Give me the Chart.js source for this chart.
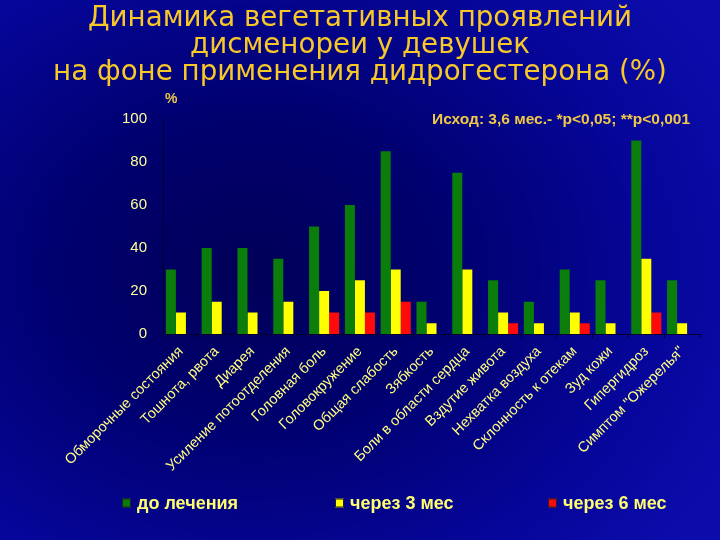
<!DOCTYPE html>
<html>
<head>
<meta charset="utf-8">
<script src="https://cdn.jsdelivr.net/npm/chart.js@4/dist/chart.umd.min.js"></script>
<style>
html,body{margin:0;padding:0;}
body{width:720px;height:540px;overflow:hidden;
background: radial-gradient(ellipse 75% 80% at 35% 50%, #000058 0%, #00006e 35%, #06069a 75%, #0c0cab 100%);}
#wrap{position:relative;width:720px;height:540px;}
canvas{display:block;}
</style>
</head>
<body>
<div id="wrap"><canvas id="c" width="720" height="540"></canvas></div>
<script>
const titleLines = ['Динамика вегетативных проявлений', 'дисменореи у девушек', 'на фоне применения дидрогестерона (%)'];
const categories = [
  'Обморочные состояния', 'Тошнота, рвота', 'Диарея', 'Усиление потоотделения',
  'Головная боль', 'Головокружение', 'Общая слабость', 'Зябкость',
  'Боли в области сердца', 'Вздутие живота', 'Нехватка воздуха', 'Склонность к отекам',
  'Зуд кожи', 'Гипергидроз', 'Симптом "Ожерелья"'
];
const beforeTreatment = [30, 40, 40, 35, 50, 60, 85, 15, 75, 25, 15, 30, 25, 90, 25];
const after3Months    = [10, 15, 10, 15, 20, 25, 30,  5, 30, 10,  5, 10,  5, 35,  5];
const after6Months    = [ 0,  0,  0,  0, 10, 10, 15,  0,  0,  5,  0,  5,  0, 10,  0];
const seriesNames = ['до лечения', 'через 3 мес', 'через 6 мес'];
const seriesColors = ['#0a7d0a', '#ffff00', '#ff0a0a'];
const yTickValues = [0, 20, 40, 60, 80, 100];
const unitLabel = '%';
const noteText = 'Исход: 3,6 мес.- *p<0,05; **p<0,001';

const overlay = {
  id: 'overlay',
  afterDraw(chart) {
    const ctx = chart.ctx;
    const area = chart.chartArea;
    ctx.save();
    // unit label
    ctx.fillStyle = '#f0c848';
    ctx.font = 'bold 14px "Liberation Sans", Arial, sans-serif';
    ctx.textAlign = 'left';
    ctx.textBaseline = 'middle';
    ctx.fillText(unitLabel, area.left + 2, area.top - 20);
    // note
    ctx.font = 'bold 15.5px "Liberation Sans", Arial, sans-serif';
    ctx.fillText(noteText, 432, area.top + 1);
    // legend
    const xs = [122, 335, 548];
    const y = 503;
    ctx.font = 'bold 18px "Liberation Sans", Arial, sans-serif';
    chart.data.datasets.forEach((ds, i) => {
      ctx.fillStyle = ds.backgroundColor;
      ctx.fillRect(xs[i], y - 4.5, 9, 9);
      ctx.strokeStyle = '#202020';
      ctx.lineWidth = 1;
      ctx.strokeRect(xs[i] + 0.5, y - 4, 8, 8);
      ctx.fillStyle = '#ffff70';
      ctx.fillText(ds.label, xs[i] + 15, y + 1);
    });
    ctx.restore();
  }
};

new Chart(document.getElementById('c'), {
  type: 'bar',
  data: {
    labels: categories,
    datasets: [
      { label: seriesNames[0], data: beforeTreatment, backgroundColor: seriesColors[0] },
      { label: seriesNames[1], data: after3Months, backgroundColor: seriesColors[1] },
      { label: seriesNames[2], data: after6Months, backgroundColor: seriesColors[2] }
    ]
  },
  options: {
    responsive: false,
    animation: false,
    devicePixelRatio: 1,
    layout: { padding: { left: 20, right: 20, top: 0, bottom: 0 } },
    datasets: { bar: { categoryPercentage: 0.84, barPercentage: 1.0 } },
    plugins: {
      legend: { display: false },
      tooltip: { enabled: false },
      title: {
        display: true,
        text: titleLines,
        color: '#f8c828',
        font: { family: '"DejaVu Sans", Verdana, sans-serif', size: 27.7, weight: 'normal', lineHeight: 0.975 },
        padding: { top: 5, bottom: 33 }
      }
    },
    scales: {
      x: {
        offset: true,
        grid: { display: true, offset: true, drawOnChartArea: false, tickLength: 4, color: '#000030' },
        border: { display: true, color: '#000030', width: 1 },
        ticks: {
          color: '#ffff80',
          minRotation: 45, maxRotation: 45,
          autoSkip: false,
          padding: 5,
          font: { family: '"Liberation Sans", Arial, sans-serif', size: 14.5 }
        },
        afterFit(scale) { scale.height = 206; }
      },
      y: {
        min: 0, max: 100,
        afterBuildTicks(scale) { scale.ticks = yTickValues.map(v => ({ value: v })); },
        grid: { display: false },
        border: { display: true, color: '#000030', width: 1 },
        ticks: {
          color: '#ffff99',
          padding: 8,
          font: { family: '"Liberation Sans", Arial, sans-serif', size: 15 }
        },
        afterFit(scale) { scale.width = 143; }
      }
    }
  },
  plugins: [overlay]
});
</script>
</body>
</html>
